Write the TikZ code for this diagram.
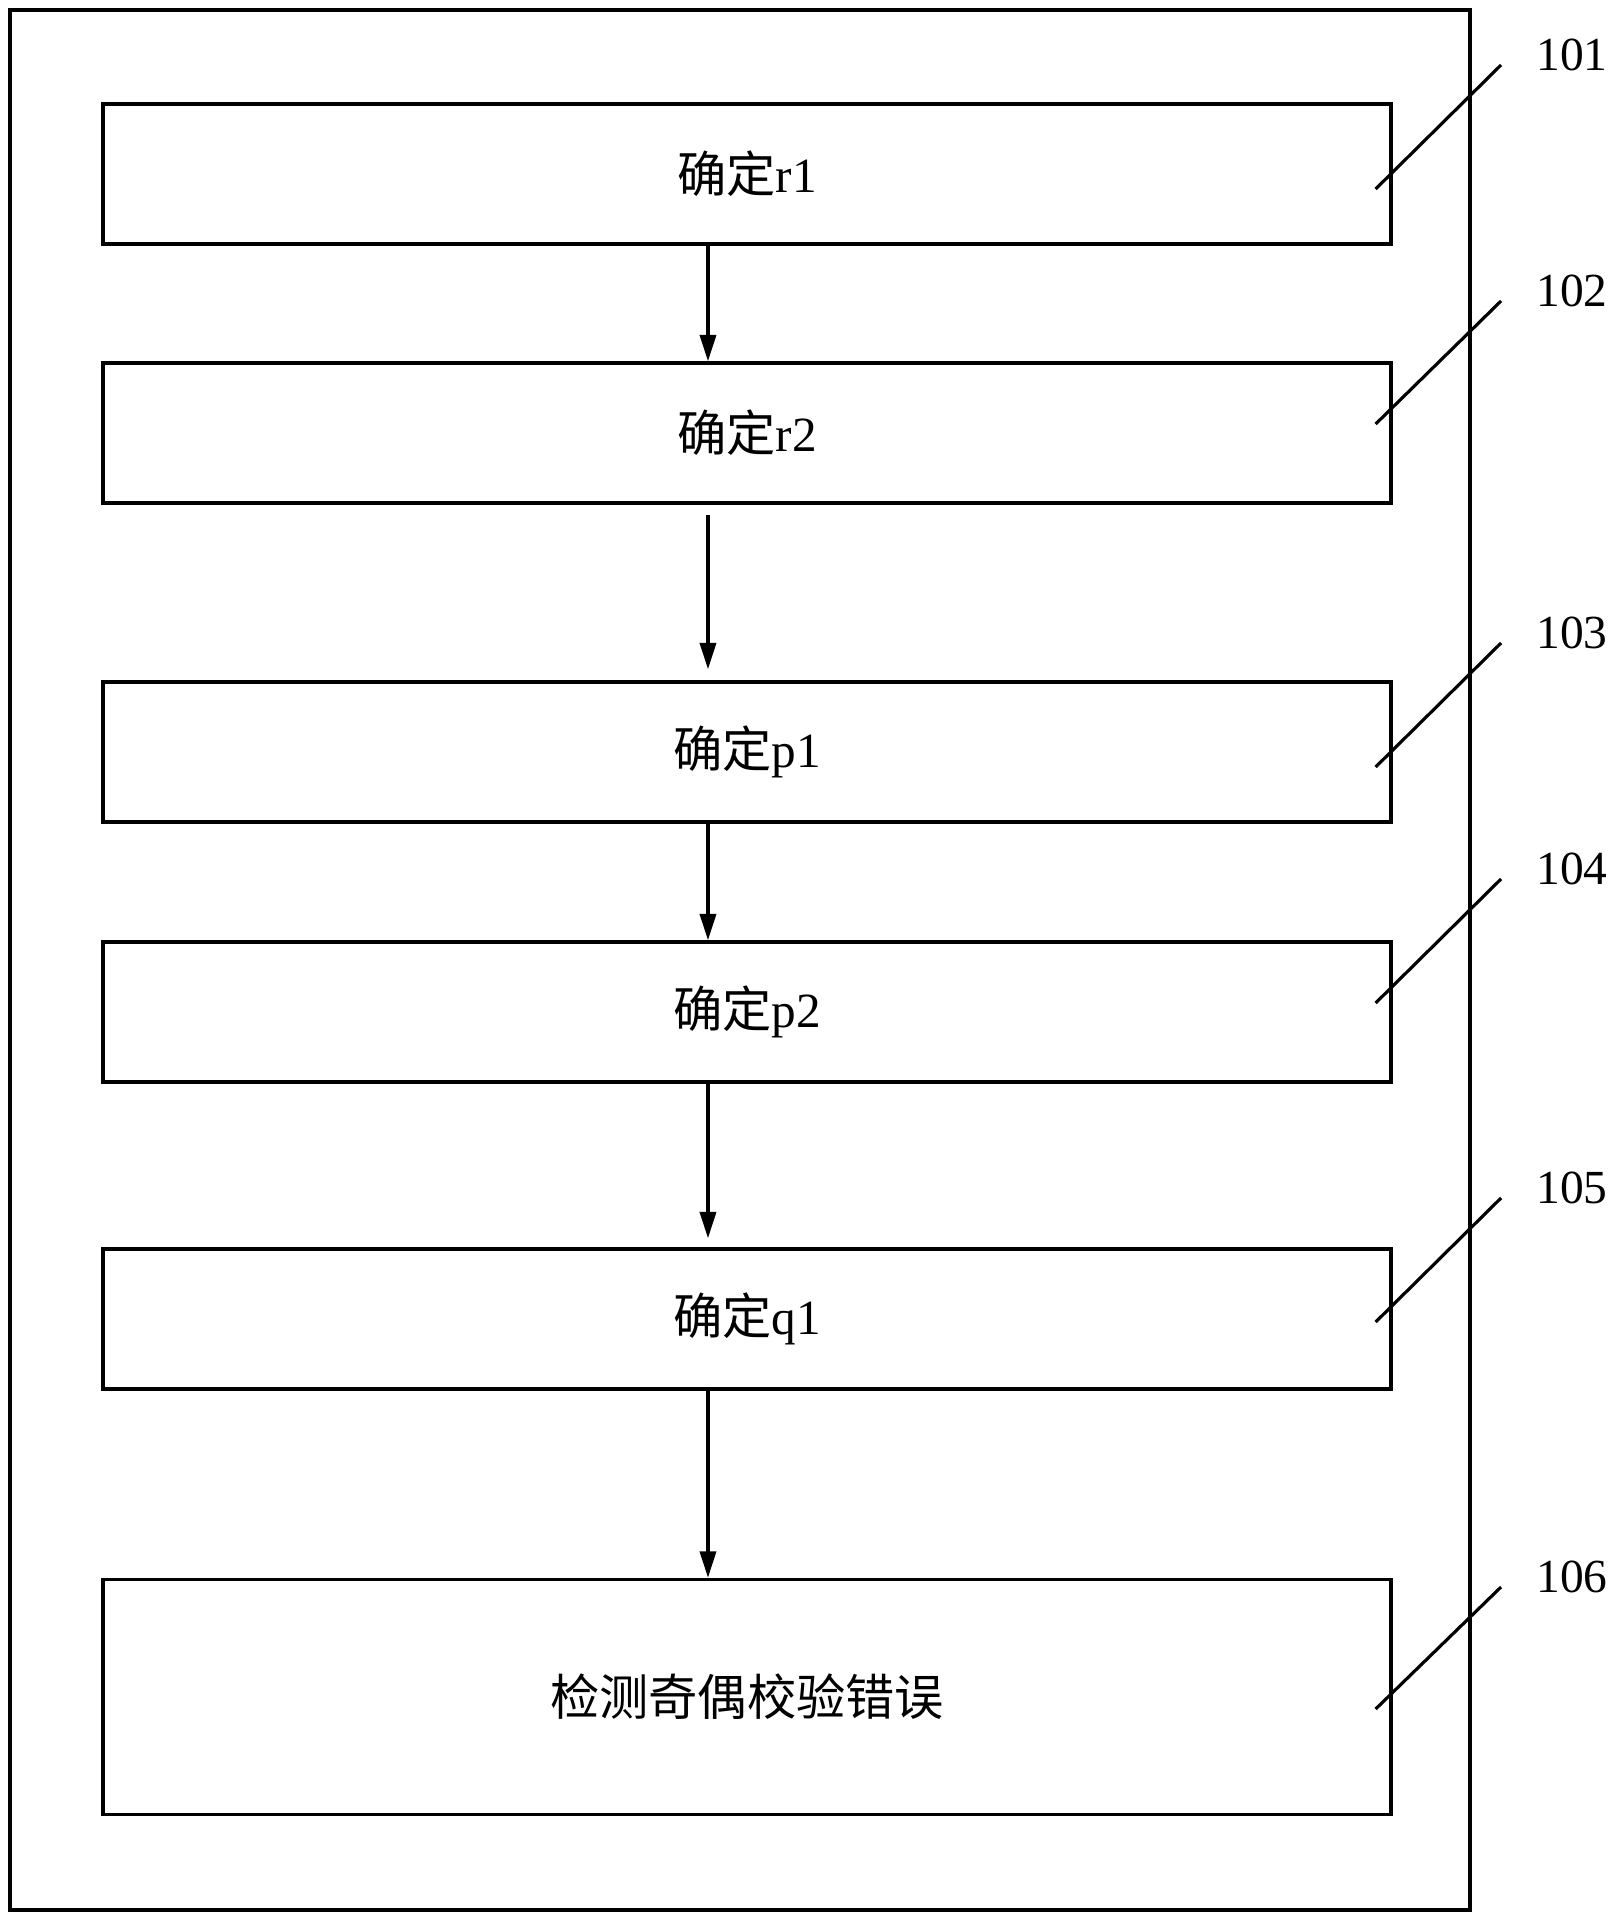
\documentclass[tikz,border=0pt]{standalone}
\usepackage{fontspec}
\setmainfont{Liberation Serif}
\newfontfamily\cjk{Noto Sans CJK SC}
\usetikzlibrary{arrows.meta}

\tikzset{
	stepbox/.style={draw, line width=1pt, minimum width=12.87cm, minimum height=1.4cm, inner sep=0pt, font=\fontsize{14}{16}\selectfont},
	flow/.style={-{Triangle[length=7.5pt,width=4.6pt]}, line width=0.9pt},
	leader/.style={line width=0.9pt},
	tag/.style={inner sep=0pt, font=\fontsize{13.5}{16}\selectfont}
}

\begin{document}
\begin{tikzpicture}[x=0.01cm, y=-0.01cm]
	\useasboundingbox (0,0) rectangle (1620,1925);

	%outer frame
	\draw[line width=1pt] (10,10) rectangle (1470,1910);

	% step boxes
	\node[stepbox] (r1) at (747,174) {{\cjk 确定}r1};
	\node[stepbox] (r2) at (747,433) {{\cjk 确定}r2};
	\node[stepbox] (p1) at (747,752) {{\cjk 确定}p1};
	\node[stepbox] (p2) at (747,1012) {{\cjk 确定}p2};
	\node[stepbox] (q1) at (747,1319) {{\cjk 确定}q1};
	\node[stepbox, minimum height=2.35cm] (chk) at (747,1697) {\cjk 检测奇偶校验错误};

	% reference numbers
	\node[tag] (n101) at (1572,55) {101};
	\node[tag] (n102) at (1572,291) {102};
	\node[tag] (n103) at (1572,633) {103};
	\node[tag] (n104) at (1572,869) {104};
	\node[tag] (n105) at (1572,1188) {105};
	\node[tag] (n106) at (1572,1577) {106};

	% Arrows
	\draw[flow] ([xshift=-0.39cm]r1.south) -- ([xshift=-0.39cm]r2.north);
	\draw[flow, shorten <=0.1cm, shorten >=0.11cm] ([xshift=-0.39cm]r2.south) -- ([xshift=-0.39cm]p1.north);
	\draw[flow] ([xshift=-0.39cm]p1.south) -- ([xshift=-0.39cm]p2.north);
	\draw[flow, shorten >=0.09cm] ([xshift=-0.39cm]p2.south) -- ([xshift=-0.39cm]q1.north);
	\draw[flow] ([xshift=-0.39cm]q1.south) -- ([xshift=-0.39cm]chk.north);

	% leader lines
	\draw[leader] ([shift={(-17,15)}]r1.east) -- ([shift={(-71,10)}]n101.center);
	\draw[leader] ([shift={(-17,-9)}]r2.east) -- ([shift={(-71,10)}]n102.center);
	\draw[leader] ([shift={(-17,15)}]p1.east) -- ([shift={(-71,10)}]n103.center);
	\draw[leader] ([shift={(-17,-9)}]p2.east) -- ([shift={(-71,10)}]n104.center);
	\draw[leader] ([shift={(-17,3)}]q1.east) -- ([shift={(-71,10)}]n105.center);
	\draw[leader] ([shift={(-17,12)}]chk.east) -- ([shift={(-71,10)}]n106.center);
\end{tikzpicture}
\end{document}
